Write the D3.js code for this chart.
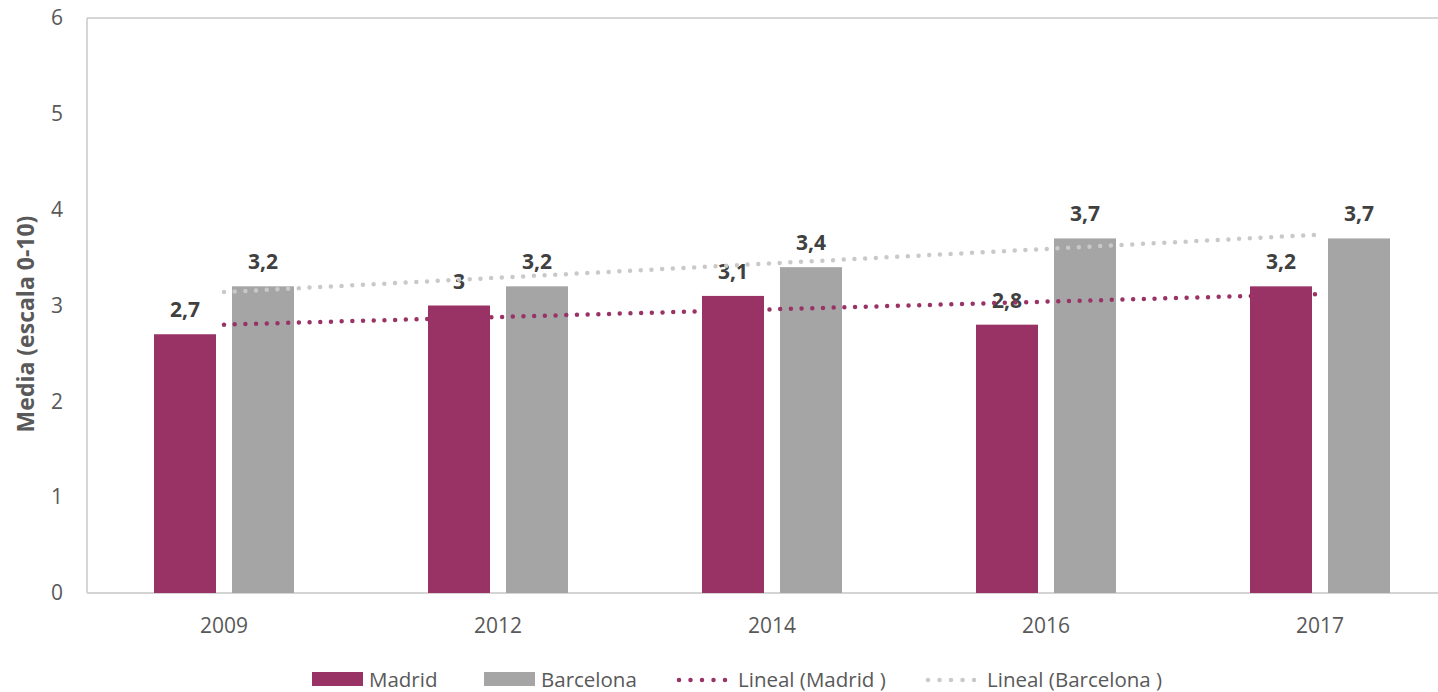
<!DOCTYPE html>
<html>
<head>
<meta charset="utf-8">
<script src="https://cdn.jsdelivr.net/npm/d3@7/dist/d3.min.js"></script>
<style>
  html, body { margin: 0; padding: 0; background: #fff; }
  svg { display: block; font-family: "Open Sans", "Noto Sans", sans-serif; }
</style>
</head>
<body>
<svg id="chart" width="1438" height="692"></svg>
<script>
// Survey means by year, 0-10 scale
const years = ["2009", "2012", "2014", "2016", "2017"];
const madrid = [2.7, 3.0, 3.1, 2.8, 3.2];
const barcelona = [3.2, 3.2, 3.4, 3.7, 3.7];
const yTicks = [0, 1, 2, 3, 4, 5, 6];
const seriesNames = ["Madrid", "Barcelona"];
const trendNames = ["Lineal (Madrid )", "Lineal (Barcelona )"];

const colors = { madrid: "#993366", barcelona: "#a5a5a5", trendB: "#c9c9c9" };

const svg = d3.select("#chart");
const plotLeft = 87, plotTop = 18, plotBottom = 593;
const band = 274;
const plotRight = plotLeft + band * years.length;

const x = d3.scaleBand().domain(years).range([plotLeft, plotRight]).paddingInner(0).paddingOuter(0);
const y = d3.scaleLinear().domain([0, 6]).range([plotBottom, plotTop]);

// plot frame
svg.append("line").attr("x1", plotLeft).attr("x2", plotRight).attr("y1", y(6)).attr("y2", y(6))
  .attr("stroke", "#c8c8c8").attr("stroke-width", 1.5);
svg.append("line").attr("x1", plotLeft).attr("x2", plotLeft).attr("y1", y(6)).attr("y2", plotBottom)
  .attr("stroke", "#c8c8c8").attr("stroke-width", 1.5);
svg.append("line").attr("x1", plotLeft).attr("x2", plotRight).attr("y1", plotBottom).attr("y2", plotBottom)
  .attr("stroke", "#d4d4d4").attr("stroke-width", 2);

// y axis labels
const yAxis = d3.axisLeft(y).tickValues(yTicks).tickSize(0).tickPadding(24).tickFormat(d3.format("d"));
const gy = svg.append("g").attr("transform", `translate(${plotLeft},0)`).call(yAxis);
gy.select(".domain").remove();
gy.selectAll("text").attr("fill", "#595959").style("font-size", "21px")
  .style("font-family", "'Open Sans', sans-serif");

// x axis labels
const xAxis = d3.axisBottom(x).tickSize(0).tickPadding(25);
const gx = svg.append("g").attr("transform", `translate(0,${plotBottom})`).call(xAxis);
gx.select(".domain").remove();
gx.selectAll("text").attr("fill", "#595959").style("font-size", "21px")
  .style("font-family", "'Open Sans', sans-serif");

// y title
svg.append("text")
  .attr("transform", `translate(34,324) rotate(-90)`)
  .attr("text-anchor", "middle")
  .attr("fill", "#595959")
  .style("font-size", "23px").style("font-weight", "bold")
  .text("Media (escala 0-10)");

// bars
const barW = 62, gap = 16;
const sub = d3.scaleOrdinal().domain(seriesNames).range([-gap / 2 - barW, gap / 2]);
const data = years.map((yr, i) => ({ yr, vals: [
  { s: "Madrid", v: madrid[i], c: colors.madrid },
  { s: "Barcelona", v: barcelona[i], c: colors.barcelona }
]}));

const groups = svg.append("g").selectAll("g").data(data).join("g")
  .attr("transform", d => `translate(${x(d.yr) + x.bandwidth() / 2},0)`);

groups.selectAll("rect").data(d => d.vals).join("rect")
  .attr("x", d => sub(d.s)).attr("width", barW)
  .attr("y", d => y(d.v)).attr("height", d => plotBottom - y(d.v))
  .attr("fill", d => d.c);

// linear trendlines (least squares over category index)
function linearFit(vals) {
  const n = vals.length;
  const xs = vals.map((_, i) => i);
  const mx = d3.mean(xs), my = d3.mean(vals);
  const sxy = d3.sum(xs, (xi, i) => (xi - mx) * (vals[i] - my));
  const sxx = d3.sum(xs, xi => (xi - mx) * (xi - mx));
  const b = sxy / sxx, a = my - b * mx;
  return [0, n - 1].map(i => ({ i, v: a + b * i }));
}
const cx = i => x(years[i]) + x.bandwidth() / 2;
const trendLine = d3.line().x(d => cx(d.i)).y(d => y(d.v));

svg.append("path").datum(linearFit(barcelona)).attr("d", trendLine)
  .attr("fill", "none").attr("stroke", colors.trendB).attr("stroke-width", 4.5)
  .attr("stroke-linecap", "round").attr("stroke-dasharray", "0 10.7");
svg.append("path").datum(linearFit(madrid)).attr("d", trendLine)
  .attr("fill", "none").attr("stroke", colors.madrid).attr("stroke-width", 4.5)
  .attr("stroke-linecap", "round").attr("stroke-dasharray", "0 10.7");

// value labels
const fmt = v => (Number.isInteger(v) ? String(v) : v.toFixed(1).replace(".", ","));
groups.selectAll("text.val").data(d => d.vals).join("text").attr("class", "val")
  .attr("x", d => sub(d.s) + barW / 2)
  .attr("y", d => y(d.v) - 17)
  .attr("text-anchor", "middle")
  .attr("fill", "#404040")
  .style("font-size", "21px").style("font-weight", "bold")
  .text(d => fmt(d.v));

// legend
const lg = svg.append("g").style("font-size", "20.5px").attr("fill", "#595959");
const ly = 679;
const legendItems = [
  { type: "rect", color: colors.madrid, label: seriesNames[0], x: 312 },
  { type: "rect", color: colors.barcelona, label: seriesNames[1], x: 484 },
  { type: "dots", color: colors.madrid, label: trendNames[0], x: 679 },
  { type: "dots", color: colors.trendB, label: trendNames[1], x: 928 }
];
legendItems.forEach(it => {
  if (it.type === "rect") {
    lg.append("rect").attr("x", it.x).attr("y", ly - 7).attr("width", 51).attr("height", 14).attr("fill", it.color);
    lg.append("text").attr("x", it.x + 57).attr("y", ly + 7.5).text(it.label);
  } else {
    lg.append("line").attr("x1", it.x).attr("x2", it.x + 47).attr("y1", ly + 1).attr("y2", ly + 1)
      .attr("stroke", it.color).attr("stroke-width", 4.5).attr("stroke-linecap", "round")
      .attr("stroke-dasharray", "0 11.5");
    lg.append("text").attr("x", it.x + 59).attr("y", ly + 7.5).text(it.label);
  }
});
</script>
</body>
</html>
